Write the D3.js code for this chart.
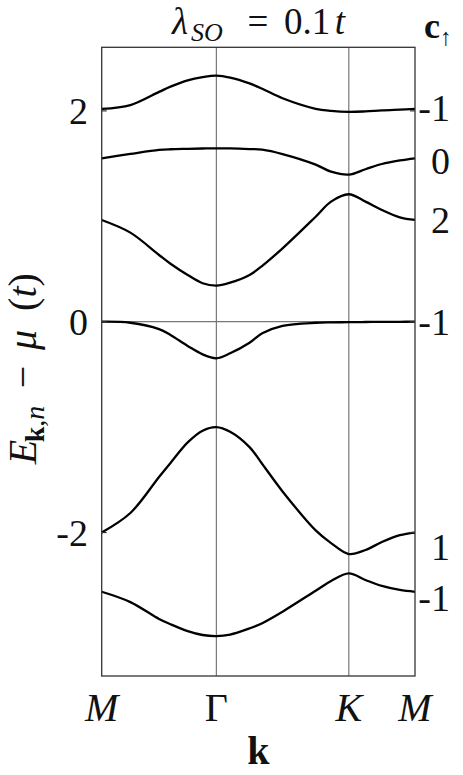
<!DOCTYPE html>
<html>
<head>
<meta charset="utf-8">
<script src="https://cdn.jsdelivr.net/npm/d3@7"></script>
<style>
  html, body { margin: 0; padding: 0; background: #fff; }
  svg { display: block; }
  text { font-family: "Liberation Serif", "DejaVu Serif", serif; fill: #111; }
</style>
</head>
<body>
<svg id="chart" width="463" height="775"></svg>
<script>
// ---- data ----
// k-path coordinate (M -> Γ -> K -> M), |ΓM| = 1
const kPoints = [0, 0.25, 0.5, 0.6, 0.75, 0.88, 1, 1.12, 1.289, 1.4, 1.577, 1.866, 2.0, 2.1547, 2.3, 2.443, 2.6, 2.732];
const band1 = [2.018, 2.055, 2.18, 2.23, 2.29, 2.32, 2.334, 2.315, 2.26, 2.21, 2.12, 2.02, 2.0, 1.99, 1.995, 2.005, 2.012, 2.018];
const band2 = [1.550, 1.591, 1.629, 1.636, 1.640, 1.643, 1.645, 1.644, 1.638, 1.632, 1.59, 1.49, 1.423, 1.395, 1.446, 1.496, 1.53, 1.550];
const band3 = [0.965, 0.845, 0.633, 0.55, 0.443, 0.365, 0.342, 0.37, 0.443, 0.53, 0.696, 0.996, 1.139, 1.209, 1.139, 1.06, 0.99, 0.965];
const band4 = [0.0, -0.01, -0.07, -0.126, -0.23, -0.31, -0.347, -0.30, -0.20, -0.11, -0.04, -0.01, -0.006, -0.005, -0.003, -0.002, -0.001, 0.0];
const band5 = [-2.0, -1.815, -1.473, -1.34, -1.145, -1.034, -1.0, -1.045, -1.19, -1.35, -1.61, -1.98, -2.10, -2.204, -2.166, -2.09, -2.025, -2.0];
const band6 = [-2.562, -2.66, -2.82, -2.87, -2.935, -2.972, -2.982, -2.968, -2.909, -2.86, -2.751, -2.552, -2.46, -2.387, -2.45, -2.507, -2.545, -2.562];
const bands = [band1, band2, band3, band4, band5, band6];

const symPoints = [0, 1, 2.1547, 2.732];
const symLabels = ["M", "Γ", "K", "M"];
const yTicks = [2, 0, -2];
const yTickLabels = ["2", "0", "-2"];
const chernLabels = ["-1", "0", "2", "-1", "1", "-1"];
const chernLabelE = [2.03, 1.525, 0.965, 0.0, -2.14, -2.625];

// ---- layout ----
const svg = d3.select("#chart");
const L = 101.7, R = 415, T = 47.3, B = 676;
const x = d3.scaleLinear().domain([0, 2.732]).range([L, R]);
const y = d3.scaleLinear().domain([-3.361, 2.603]).range([B, T]);

// grid lines at Γ, K and E=0
const g = svg.append("g");
g.selectAll("line.vgrid").data(symPoints.slice(1, 3)).enter().append("line")
  .attr("x1", d => x(d)).attr("x2", d => x(d)).attr("y1", T).attr("y2", B)
  .attr("stroke", "#777").attr("stroke-width", 1.2);
g.append("line").attr("x1", L).attr("x2", R).attr("y1", y(0)).attr("y2", y(0))
  .attr("stroke", "#777").attr("stroke-width", 1.2);

// bands
const line = d3.line().x((d, i) => x(kPoints[i])).y(d => y(d)).curve(d3.curveCatmullRom.alpha(0.5));
svg.append("g").selectAll("path").data(bands).enter().append("path")
  .attr("d", line).attr("fill", "none").attr("stroke", "#000").attr("stroke-width", 2.3)
  .attr("stroke-linejoin", "round");

// frame
svg.append("rect").attr("x", L).attr("y", T).attr("width", R - L).attr("height", B - T)
  .attr("fill", "none").attr("stroke", "#333").attr("stroke-width", 1.3);

// y ticks (inward, both sides)
const ty = svg.append("g");
ty.selectAll("line.l").data(yTicks).enter().append("line")
  .attr("x1", L).attr("x2", L + 5).attr("y1", d => y(d)).attr("y2", d => y(d))
  .attr("stroke", "#333").attr("stroke-width", 1.2);
ty.selectAll("line.r").data(yTicks).enter().append("line")
  .attr("x1", R - 5).attr("x2", R).attr("y1", d => y(d)).attr("y2", d => y(d))
  .attr("stroke", "#333").attr("stroke-width", 1.2);
ty.selectAll("text").data(yTicks).enter().append("text")
  .attr("x", 88).attr("y", d => y(d) + 13).attr("text-anchor", "end")
  .attr("font-size", 38).text((d, i) => yTickLabels[i]);

// x labels
svg.append("g").selectAll("text").data(symPoints).enter().append("text")
  .attr("x", d => x(d)).attr("y", 721).attr("text-anchor", "middle")
  .attr("font-size", 40)
  .attr("font-style", (d, i) => symLabels[i] === "Γ" ? "normal" : "italic")
  .text((d, i) => symLabels[i]);

// x axis title
svg.append("text").attr("x", (L + R) / 2).attr("y", 764).attr("text-anchor", "middle")
  .attr("font-size", 40).attr("font-weight", "bold").text("k");

// Chern labels
svg.append("g").selectAll("text").data(chernLabelE).enter().append("text")
  .attr("x", 450).attr("y", d => y(d) + 13).attr("text-anchor", "end")
  .attr("font-size", 38).text((d, i) => chernLabels[i]);

// c↑ header
const ch = svg.append("text").attr("x", 424).attr("y", 38).attr("font-size", 36);
ch.append("tspan").attr("font-weight", "bold").text("c");
ch.append("tspan").attr("font-size", 24).attr("dy", 7).text("↑");

// title (each piece centred on its place)
const title = svg.append("text").attr("y", 34).attr("font-size", 37).attr("text-anchor", "middle");
title.append("tspan").attr("x", 180).attr("font-style", "italic").text("λ");
title.append("tspan").attr("x", 207).attr("font-style", "italic").attr("font-size", 26).attr("dy", 7).text("SO");
title.append("tspan").attr("x", 258).attr("dy", -7).text("=");
title.append("tspan").attr("x", 307).text("0.1");
title.append("tspan").attr("x", 340).attr("font-style", "italic").text("t");

// y axis title (rotated; tspan x runs upward along the page)
const yl = svg.append("text").attr("transform", "translate(36,0) rotate(-90)")
  .attr("font-size", 40).attr("text-anchor", "middle");
yl.append("tspan").attr("x", -452).attr("font-style", "italic").text("E");
yl.append("tspan").attr("x", -424).attr("dy", 8).attr("font-size", 28).attr("font-weight", "bold").text("k");
yl.append("tspan").attr("font-size", 28).text(",");
yl.append("tspan").attr("font-size", 28).attr("font-style", "italic").text("n");
yl.append("tspan").attr("x", -377).attr("dy", -8).text("−");
yl.append("tspan").attr("x", -340).attr("font-style", "italic").text("μ");
yl.append("tspan").attr("x", -292).text("(");
yl.append("tspan").attr("font-style", "italic").text("t");
yl.append("tspan").text(")");
</script>
</body>
</html>
